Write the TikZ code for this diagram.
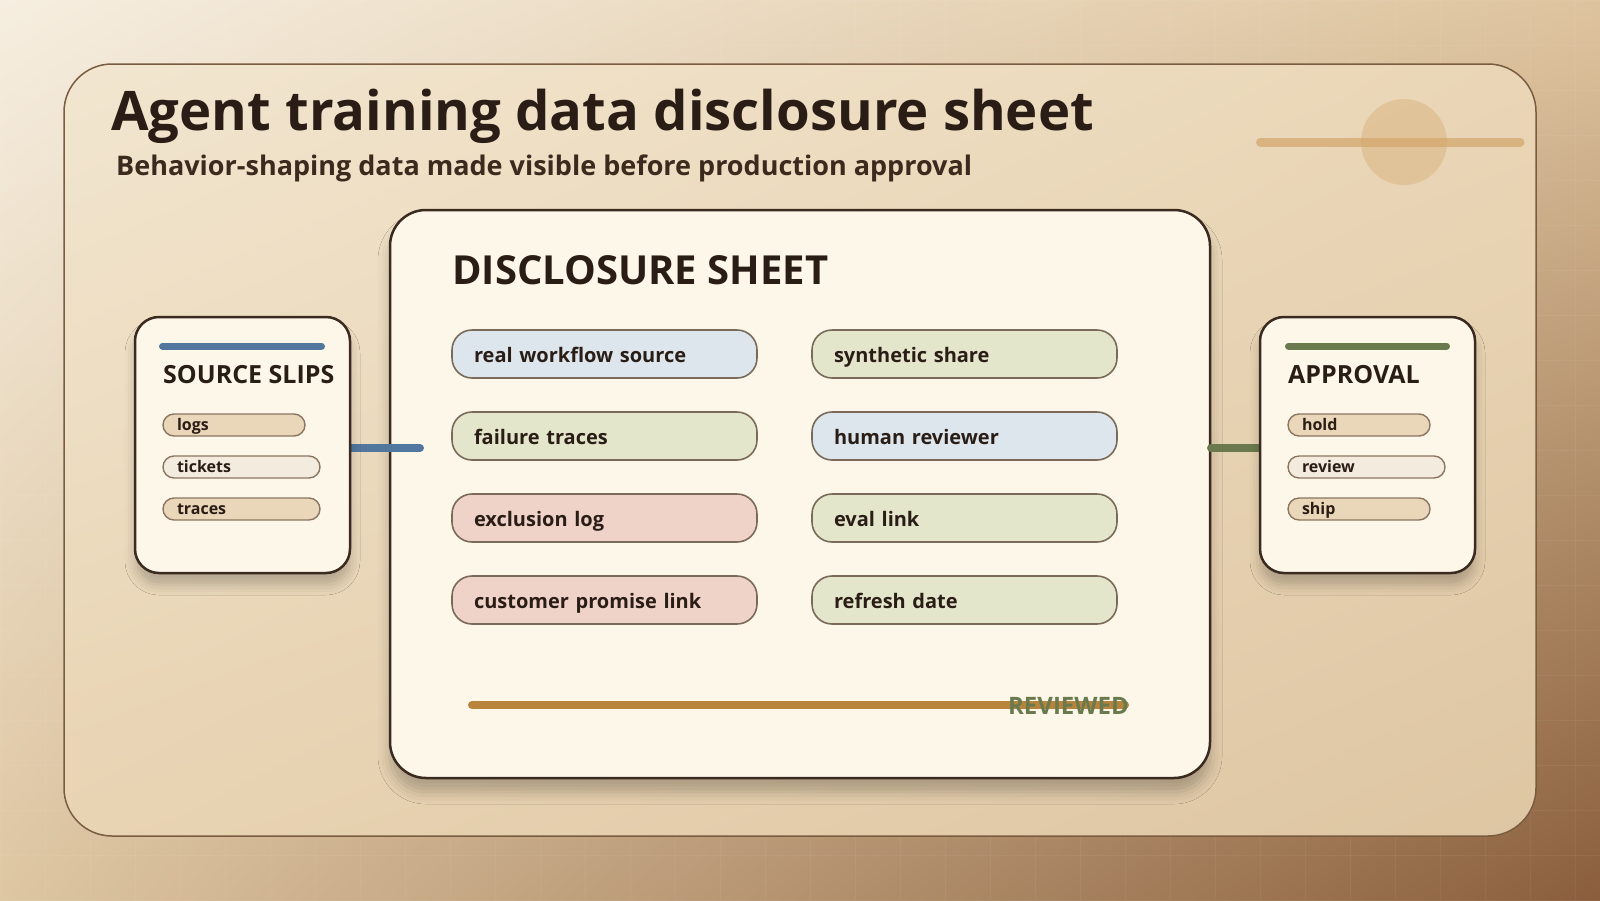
\documentclass[tikz,border=0pt]{standalone}
\usepackage{fontspec}
\setmainfont{Open Sans}
\usetikzlibrary{shadings,shadows.blur}
\definecolor{ink}{HTML}{2A1D16}
\definecolor{subink}{HTML}{3D2A1E}
\definecolor{cardfill}{HTML}{FDF7EA}
\definecolor{edge}{HTML}{3A2A20}
\definecolor{pilledge}{HTML}{8A7560}
\definecolor{itemedge}{HTML}{7A6A5A}
\definecolor{steel}{HTML}{52779E}
\definecolor{olive}{HTML}{6B7A4E}
\definecolor{ochre}{HTML}{B8843C}
\definecolor{cblue}{HTML}{DDE6EC}
\definecolor{cgreen}{HTML}{E3E6CB}
\definecolor{cpink}{HTML}{EFD3C9}
\definecolor{tanA}{HTML}{EAD6B8}
\definecolor{tanB}{HTML}{F3EBDE}
\definecolor{panelline}{HTML}{7A5C40}
\definecolor{deco}{HTML}{D4A86E}
\definecolor{bgUL}{HTML}{F6EEE0}
\definecolor{bgUR}{HTML}{DEC49E}
\definecolor{bgLL}{HTML}{DEC6A2}
\definecolor{bgLR}{HTML}{8A5E3C}
\definecolor{pnUL}{HTML}{F2E6D0}
\definecolor{pnUR}{HTML}{EAD6B6}
\definecolor{pnLL}{HTML}{E8D3B2}
\definecolor{pnLR}{HTML}{DEC6A3}
\tikzset{
  sidecard/.style={draw=edge, line width=2.5pt, fill=cardfill, rounded corners=24pt,
    minimum width=215pt, minimum height=256pt, inner sep=0pt,
    blur shadow={shadow xshift=0pt, shadow yshift=-12pt, shadow blur radius=10pt, shadow opacity=22}},
  sheetcard/.style={draw=edge, line width=2.5pt, fill=cardfill, rounded corners=36pt,
    minimum width=820pt, minimum height=568pt, inner sep=0pt,
    blur shadow={shadow xshift=0pt, shadow yshift=-14pt, shadow blur radius=12pt, shadow opacity=24}},
  item/.style={draw=itemedge, line width=1.6pt, rounded corners=20pt, minimum height=48pt,
    text width=261pt, inner xsep=22pt, inner ysep=0pt, align=left, text=ink,
    text height=16pt, text depth=0pt,
    font=\fontsize{20}{24}\selectfont\bfseries},
  slip/.style={draw=pilledge, line width=1.4pt, rounded corners=11pt, minimum height=22pt,
    inner xsep=14pt, inner ysep=0pt, align=left, text=ink,
    text height=12pt, text depth=1pt,
    font=\fontsize{16}{18}\selectfont\bfseries},
  cardtitle/.style={anchor=base west, inner sep=0pt, text=ink, font=\fontsize{25}{30}\selectfont\bfseries},
  bar/.style={line width=7pt, line cap=round},
  conn/.style={line width=8pt, line cap=round},
}
\begin{document}
\begin{tikzpicture}[x=1pt,y=-1pt]
\useasboundingbox (0,0) rectangle (1600,900);
% background
\shade[upper left=bgUL, upper right=bgUR, lower left=bgLL, lower right=bgLR] (0,0) rectangle (1600,900);
\foreach \gx in {0,45,...,1600} \draw[white, opacity=0.05, line width=1pt] (\gx,0) -- (\gx,900);
\foreach \gy in {0,45,...,900} \draw[white, opacity=0.05, line width=1pt] (0,\gy) -- (1600,\gy);
% outer panel
\shade[rounded corners=48pt, upper left=pnUL, upper right=pnUR, lower left=pnLL, lower right=pnLR]
  (64,64) rectangle (1536,836);
\draw[panelline, line width=1.5pt, rounded corners=48pt] (64,64) rectangle (1536,836);
% decoration
\draw[deco, opacity=0.75, line width=9pt, line cap=round] (1260.5,142) -- (1520,142);
\fill[deco, opacity=0.4] (1404,142) circle (43pt);
% titles
\node[anchor=base west, inner sep=0pt, text=ink, font=\fontsize{54.5}{64}\selectfont\bfseries] (title) at (111,130) {Agent training data disclosure sheet};
\node[anchor=base west, inner sep=0pt, text=subink, font=\fontsize{27}{32}\selectfont\bfseries] (subtitle) at (116,175) {Behavior-shaping data made visible before production approval};
% main sheet
\node[sheetcard] (sheet) at (800,494) {};
\node[anchor=base west, inner sep=0pt, text=ink, font=\fontsize{40}{48}\selectfont\bfseries] (sheettitle) at (452,284) {DISCLOSURE SHEET};
\node[item, fill=cblue]  (i1) at (604.5,354) {real workflow source};
\node[item, fill=cgreen] (i2) at (604.5,436) {failure traces};
\node[item, fill=cpink]  (i3) at (604.5,518) {exclusion log};
\node[item, fill=cpink]  (i4) at (604.5,600) {customer promise link};
\node[item, fill=cgreen] (j1) at (964.5,354) {synthetic share};
\node[item, fill=cblue]  (j2) at (964.5,436) {human reviewer};
\node[item, fill=cgreen] (j3) at (964.5,518) {eval link};
\node[item, fill=cgreen] (j4) at (964.5,600) {refresh date};
\coordinate (rb1) at (472,705);
\coordinate (rb2) at (1125,705);
\draw[conn, ochre] (rb1) -- (rb2);
\node[anchor=east, inner sep=0pt, text=olive, font=\fontsize{24}{28}\selectfont\bfseries] (reviewed) at (1129,706) {REVIEWED};
% connectors
\coordinate (bl) at (420,448);
\coordinate (gl) at (1211,448);
\draw[conn, steel] (300,448) -- (bl);
\draw[conn, olive] (gl) -- (1300,448);
% source card
\node[sidecard] (src) at (242.5,445) {};
\draw[bar, steel] (162.5,346) -- (321.5,346);
\node[cardtitle] (srctitle) at (163,383) {SOURCE SLIPS};
\node[slip, fill=tanA, text width=114pt] (s1) at (234,425) {logs};
\node[slip, fill=tanB, text width=129pt] (s2) at (241.5,467) {tickets};
\node[slip, fill=tanA, text width=129pt] (s3) at (241.5,509) {traces};
% approval card
\node[sidecard] (apr) at (1367.5,445) {};
\draw[bar, olive] (1288.5,346) -- (1446.5,346);
\node[cardtitle] (aprtitle) at (1288,383) {APPROVAL};
\node[slip, fill=tanA, text width=114pt] (a1) at (1359,425) {hold};
\node[slip, fill=tanB, text width=129pt] (a2) at (1366.5,467) {review};
\node[slip, fill=tanA, text width=114pt] (a3) at (1359,509) {ship};
\end{tikzpicture}
\end{document}
